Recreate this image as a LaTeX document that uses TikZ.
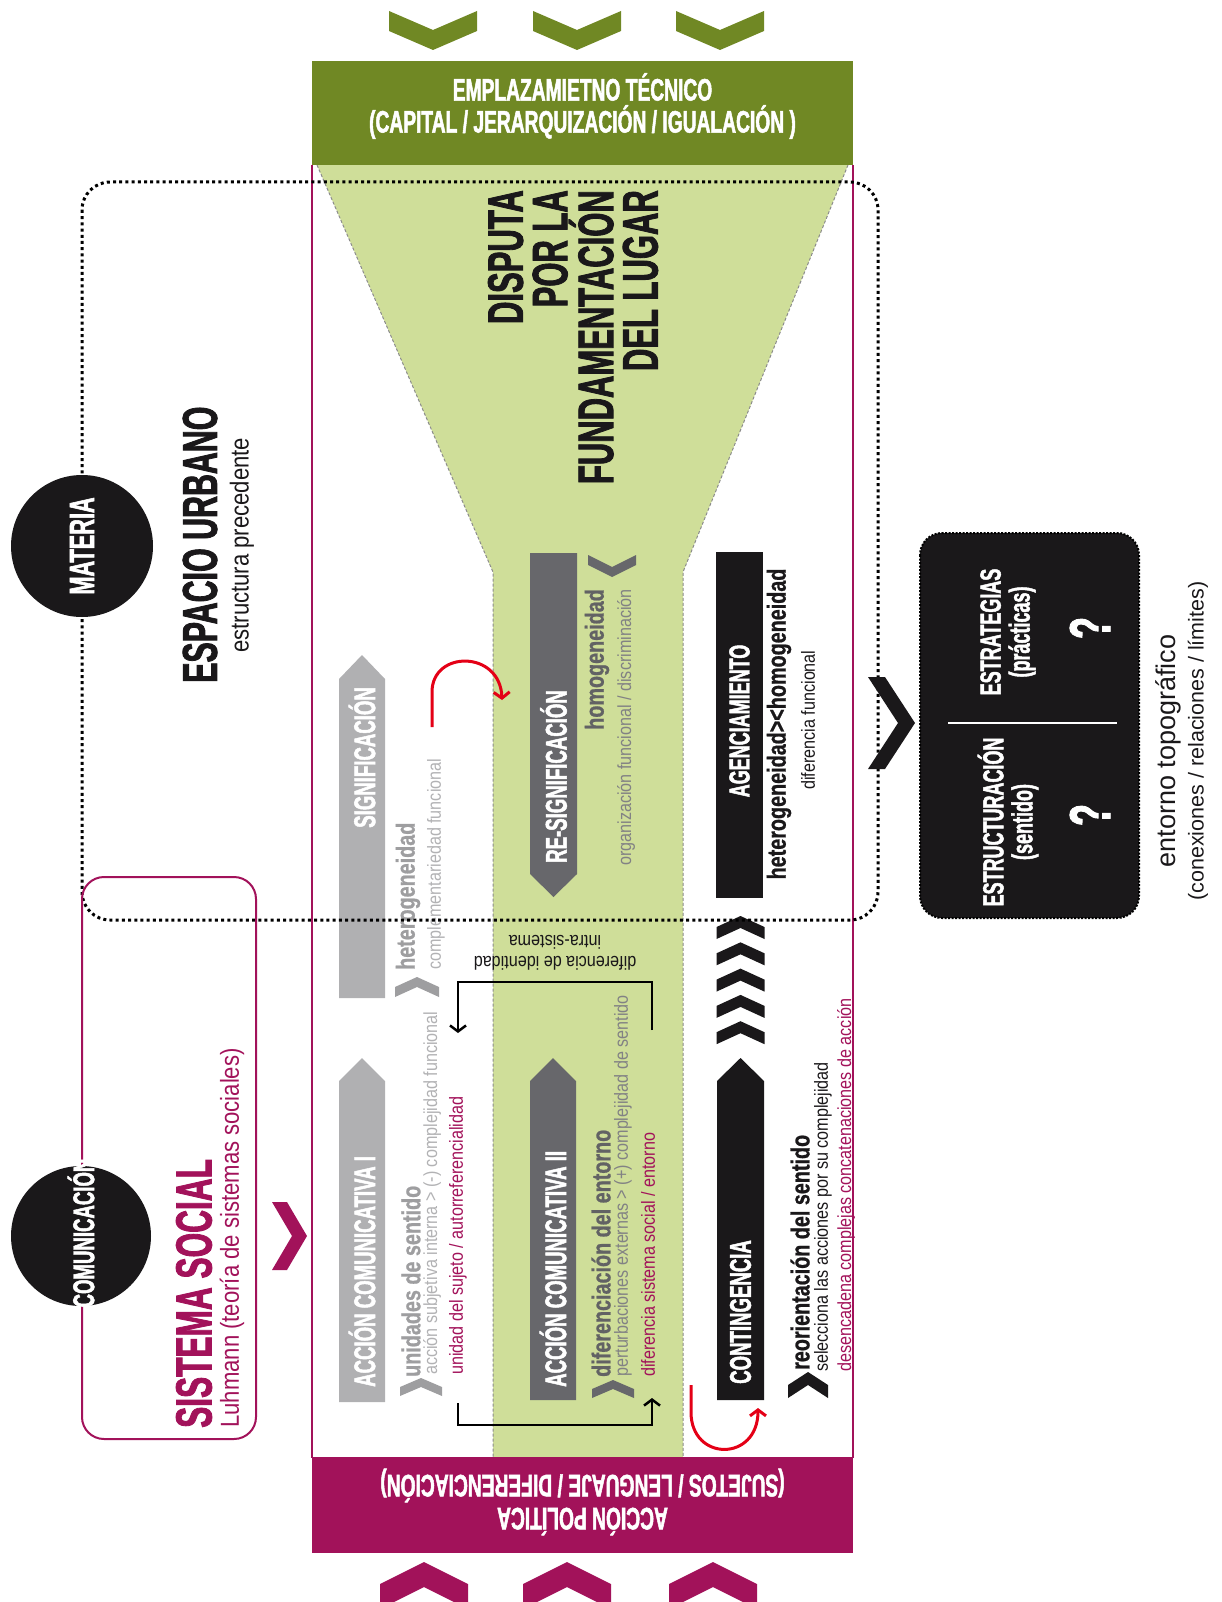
\documentclass[tikz,border=0pt]{standalone}
\usepackage{fontspec}
\setmainfont{Liberation Sans}
\newfontfamily\condfont{Liberation Sans}[FakeStretch=0.62, BoldFeatures={FakeBold=1.6}]
\newfontfamily\narrowfont{Liberation Sans}[FakeStretch=0.85]
\newfontfamily\boldnarrow{Liberation Sans}[FakeStretch=0.76, BoldFeatures={FakeBold=0.8}]
\usetikzlibrary{arrows.meta}

\definecolor{dgreen}{RGB}{112,136,36}
\definecolor{lgreen}{RGB}{207,222,153}
\definecolor{purp}{RGB}{162,18,90}
\definecolor{lgrey}{RGB}{176,176,178}
\definecolor{dgrey}{RGB}{103,103,107}
\definecolor{tgreya}{RGB}{158,158,160}
\definecolor{tgreyb}{RGB}{178,178,180}
\definecolor{tgreyc}{RGB}{98,98,100}
\definecolor{tgreyd}{RGB}{130,130,132}
\definecolor{offblack}{RGB}{26,24,26}
\definecolor{redline}{RGB}{228,0,22}

% chevrons: colour, x, y of tip, half width, rise, thickness
\newcommand\chevU[6]{\fill[#1] (#2,#3) -- ({#2+#4},{#3+#5}) -- ({#2+#4},{#3+#5+#6}) -- (#2,{#3+#6}) -- ({#2-#4},{#3+#5+#6}) -- ({#2-#4},{#3+#5}) -- cycle;}
\newcommand\chevD[6]{\fill[#1] (#2,#3) -- ({#2+#4},{#3-#5}) -- ({#2+#4},{#3-#5-#6}) -- (#2,{#3-#6}) -- ({#2-#4},{#3-#5-#6}) -- ({#2-#4},{#3-#5}) -- cycle;}
\newcommand\chevR[6]{\fill[#1] (#2,#3) -- ({#2-#5},{#3-#4}) -- ({#2-#5-#6},{#3-#4}) -- ({#2-#6},#3) -- ({#2-#5-#6},{#3+#4}) -- ({#2-#5},{#3+#4}) -- cycle;}

\begin{document}
\begin{tikzpicture}[x=1pt, y=-1pt,
  capsf/.style={font=\condfont\bfseries\fontsize{#1}{#1}\selectfont, inner sep=0pt},
  boldtx/.style={font=\boldnarrow\bfseries\fontsize{26}{28}\selectfont, inner sep=0pt},
  smalltx/.style={font=\narrowfont\fontsize{19}{21}\selectfont, inner sep=0pt},
  vup/.style={rotate=90, anchor=west},
  vend/.style={rotate=90, anchor=east},
  funneledge/.style={draw=black!45, line width=1pt, dash pattern=on 3pt off 2pt},
  dotline/.style={draw=black, line width=3pt, dash pattern=on 3pt off 3.2pt},
  brk/.style={draw=black, line width=2.5pt, -{Straight Barb[length=6pt, width=16pt, line width=2.5pt]}},
  redarr/.style={draw=redline, line width=3pt, -{Straight Barb[length=6pt, width=16pt, line width=3pt]}}
]
\useasboundingbox (0,0) rectangle (1222,1602);

% funnel
\fill[lgreen] (317,165) -- (848,165) -- (683,572) -- (683,1458) -- (493,1458) -- (493,572) -- cycle;
\draw[funneledge] (317,165) -- (493,572) -- (493,1458);
\draw[funneledge] (848,165) -- (683,572) -- (683,1458);

% top band
\fill[dgreen] (312,61) rectangle (853,165);
\node[capsf=30, text=white, align=center, font=\condfont\bfseries\fontsize{31}{32}\selectfont] (emplaz) at (582.5,106)
  {EMPLAZAMIETNO TÉCNICO\\(CAPITAL / JERARQUIZACIÓN / IGUALACIÓN )};
\foreach \cx in {433,577,720} \chevD{dgreen}{\cx}{50}{44}{19}{20};

% frame and bottom band
\draw[purp, line width=2pt] (312,165) -- (312,1458) (853,165) -- (853,1458);
\fill[purp] (312,1457) rectangle (853,1553);
\node[text=white, align=center, inner sep=0pt, rotate=180, font=\condfont\bfseries\fontsize{31}{33}\selectfont] (accpol) at (582.5,1502)
  {ACCIÓN POLÍTICA\\(SUJETOS / LENGUAJE / DIFERENCIACIÓN)};
\foreach \cx in {424,567,713} \chevU{purp}{\cx}{1562}{44}{22}{25};

% title in the funnel
\node[capsf=50, text=offblack, align=right, font=\condfont\bfseries\fontsize{50}{44.5}\selectfont, rotate=90, anchor=east] (disputa) at (573,190)
  {DISPUTA\\POR LA\\FUNDAMENTACIÓN\\DEL LUGAR};

% arrows
\fill[lgrey] (339,998) -- (339,679) -- (362,655) -- (385,679) -- (385,998) -- cycle;
\fill[lgrey] (339,1402) -- (339,1081) -- (362,1058) -- (385,1081) -- (385,1402) -- cycle;
\fill[dgrey] (530,553) -- (577,553) -- (577,874) -- (553.5,897) -- (530,874) -- cycle;
\fill[dgrey] (530,1400) -- (530,1081) -- (553,1058) -- (576,1081) -- (576,1400) -- cycle;
\fill[offblack] (716,552) rectangle (763,898);
\fill[offblack] (717,1400) -- (717,1081) -- (740.5,1058) -- (764,1081) -- (764,1400) -- cycle;
\foreach \k in {0,...,4} \chevU{offblack}{740.5}{916+26.3*\k}{24}{11}{12};

\node[capsf=30, text=white, vend] (signif) at (362,687) {SIGNIFICACIÓN};
\node[capsf=30, text=white, vup] (acc1) at (362,1387) {ACCIÓN COMUNICATIVA I};
\node[capsf=30, text=white, vup] (resig) at (553.5,863) {RE-SIGNIFICACIÓN};
\node[capsf=30, text=white, vup] (acc2) at (553,1387) {ACCIÓN COMUNICATIVA II};
\node[capsf=29, text=white, rotate=90] (agenc) at (739.5,721) {AGENCIAMIENTO};
\node[capsf=30, text=white, vup] (conting) at (740.5,1384) {CONTINGENCIA};

% texts, first column
\node[boldtx, text=tgreya, vup] (hetero) at (408,970) {heterogeneidad};
\node[smalltx, text=tgreyb, vup] (complem) at (436,970) {complementariedad funcional};
\chevU{tgreya}{417}{977}{22}{10}{10}
\node[boldtx, text=tgreya, vup] (unidades) at (411,1377) {unidades de sentido};
\node[smalltx, text=tgreyb, vup] (accsubj) at (432,1375) {acción subjetiva interna > (-) complejidad funcional};
\node[smalltx, text=purp, vup] (unisuj) at (458,1375) {unidad del sujeto / autorreferencialidad};
\chevU{tgreya}{421}{1378}{21}{9}{9}

% second column
\node[boldtx, text=tgreyc, vend] (homog) at (597,589) {homogeneidad};
\node[smalltx, text=tgreyd, vend] (orgfun) at (626,589) {organización funcional / discriminación};
\chevD{dgrey}{612}{577}{24}{12}{10}
\node[boldtx, text=tgreyc, vup] (difent) at (601,1377) {diferenciación del entorno};
\node[smalltx, text=tgreyd, vup] (perturb) at (623,1377) {perturbaciones externas > (+) complejidad de sentido};
\node[smalltx, text=purp, vup] (difsis) at (648,1377) {diferencia sistema social / entorno};
\chevU{dgrey}{613}{1380}{21}{9}{9}
\node[smalltx, text=offblack, rotate=180, align=center] (difid) at (555,953) {diferencia de identidad\\intra-sistema};

% third column
\node[boldtx, text=offblack, rotate=90] (hethom) at (779,724) {heterogeneidad><homogeneidad};
\node[smalltx, text=offblack, rotate=90] (diffun) at (808,720) {diferencia funcional};
\node[boldtx, text=offblack, vup] (reorient) at (800,1370) {reorientación del sentido};
\node[smalltx, text=offblack, vup] (selecc) at (823,1372) {selecciona las acciones por su complejidad};
\node[smalltx, text=purp, vup] (desenc) at (846,1372) {desencadena complejas concatenaciones de acción};
\chevU{offblack}{808}{1372}{20}{13}{13}

% loops
\coordinate (bt1) at (652,1030);
\coordinate (bt2) at (458,1033);
\draw[brk] (bt1) |- (555,982) -| (bt2);
\coordinate (bb1) at (458,1403);
\coordinate (bb2) at (652,1398);
\draw[brk] (bb1) |- (555,1425) -| (bb2);
\coordinate (rt1) at (432,727);
\coordinate (rt2) at (502,700);
\draw[redarr] (rt1) -- (432,692) .. controls (432,650) and (500,650) .. (rt2);
\coordinate (rb1) at (691,1385);
\coordinate (rb2) at (758,1408);
\draw[redarr] (rb1) -- (691,1412) .. controls (691,1462) and (758,1462) .. (rb2);

% urban space
\draw[dotline, rounded corners=28pt] (82,182) rectangle (878,920);
\node[capsf=49, text=offblack, vup] (espacio) at (200,683) {ESPACIO URBANO};
\node[font=\narrowfont\fontsize{26}{28}\selectfont, inner sep=0pt, text=offblack, vup] (estprec) at (242,653) {estructura precedente};
\node[circle, fill=offblack, minimum size=142pt, inner sep=0pt, text=white, rotate=90, font=\condfont\bfseries\fontsize{35}{35}\selectfont] (materia) at (82,546) {MATERIA};

% social system
\draw[purp, line width=2pt, rounded corners=22pt] (82,877) rectangle (256,1439);
\node[capsf=51, text=purp, vup] (sissoc) at (194,1428) {SISTEMA SOCIAL};
\node[font=\narrowfont\fontsize{26}{28}\selectfont, inner sep=0pt, text=purp, vup] (luhmann) at (232,1428) {Luhmann (teoría de sistemas sociales)};
\node[circle, fill=offblack, minimum size=140pt, inner sep=0pt] (comunic) at (81,1236) {};
\node[capsf=30, text=white, rotate=90] (comlbl) at (81,1233) {COMUNICACIÓN};
\chevR{purp}{307}{1236}{34}{20}{15}

% topographic box
\chevR{offblack}{915}{723}{46}{30}{17}
\filldraw[fill=offblack, draw=black, line width=2pt, dash pattern=on 2pt off 1.5pt, rounded corners=22pt] (920,533) rectangle (1139,918);
\node[capsf=29, text=white, rotate=90, align=center] (estruc) at (1008,822) {ESTRUCTURACIÓN\\(sentido)};
\node[capsf=29, text=white, rotate=90, align=center] (estrat) at (1008,632) {ESTRATEGIAS\\(prácticas)};
\node[capsf=58, text=white, rotate=90] (qa) at (1090,815) {?};
\node[capsf=58, text=white, rotate=90] (qb) at (1090,628) {?};
\draw[white, line width=2.5pt] (948,723) -- (1117,723);
\node[font=\fontsize{27}{29}\selectfont, inner sep=0pt, text=offblack, rotate=90] (entorno) at (1168,751) {entorno topográfico};
\node[font=\fontsize{21.5}{23}\selectfont, inner sep=0pt, text=offblack, rotate=90] (conex) at (1198,741) {(conexiones / relaciones / límites)};
\end{tikzpicture}
\end{document}
